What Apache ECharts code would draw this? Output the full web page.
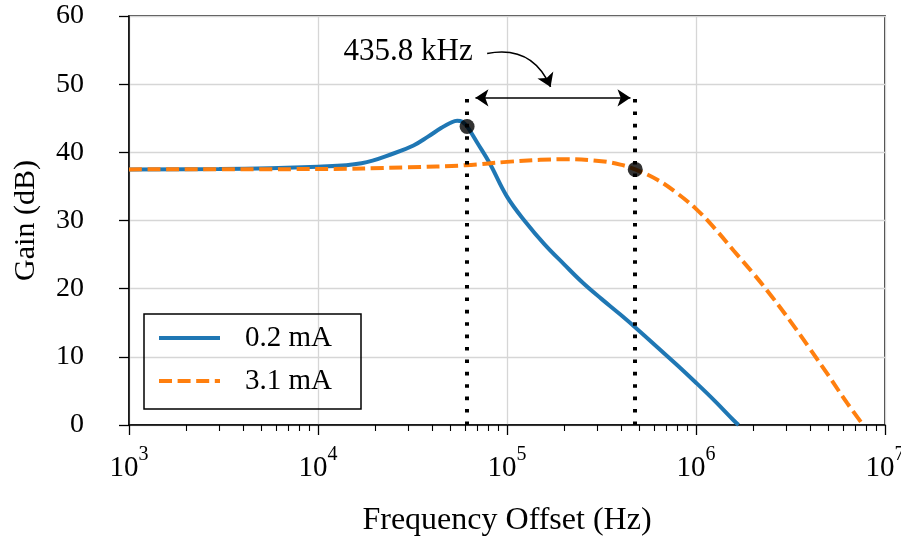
<!DOCTYPE html>
<html>
<head>
<meta charset="utf-8">
<script src="https://cdn.jsdelivr.net/npm/echarts@6/dist/echarts.min.js"></script>
<style>
  html, body { margin: 0; padding: 0; background: #fff; }
  #chart { width: 901px; height: 536px; }
</style>
</head>
<body>
<div id="chart"></div>
<script>
// 0.2 mA curve
var blueFreq = [1e3, 3e3, 1e4, 1.7e4, 2.55e4, 3.2e4, 3.82e4, 4.5e4, 5.0e4, 5.45e4, 5.8e4, 6.15e4, 7e4, 8.1e4, 1e5, 1.26e5, 1.58e5, 2.0e5, 2.51e5, 3.16e5, 3.98e5, 5.01e5, 6.31e5, 7.94e5, 1e6, 1.26e6, 1.58e6, 1.68e6]
var blueGain = [37.5, 37.55, 37.9, 38.4, 39.9, 41.0, 42.3, 43.6, 44.3, 44.65, 44.5, 43.8, 41.3, 38.4, 33.5, 29.7, 26.5, 23.6, 20.9, 18.5, 16.2, 13.8, 11.3, 8.8, 6.2, 3.5, 0.7, 0]
// 3.1 mA curve
var orangeFreq = [1e3, 1e4, 3e4, 6e4, 1e5, 1.5e5, 2.07e5, 3.16e5, 3.98e5, 4.77e5, 6.31e5, 7.94e5, 1e6, 1.26e6, 1.58e6, 2.0e6, 2.51e6, 3.16e6, 3.98e6, 5.01e6, 6.31e6, 7.67e6]
var orangeGain = [37.5, 37.55, 37.8, 38.1, 38.6, 38.9, 39.0, 38.7, 38.2, 37.5, 35.9, 34.0, 31.7, 28.8, 25.6, 22.3, 18.9, 15.2, 11.3, 7.3, 3.2, 0]
// marked points
var markFreq = [6.15e4, 4.77e5]
var markGain = [43.8, 37.5]
var bandLabel = '435.8 kHz'
var minorTicks = [2e3, 3e3, 4e3, 5e3, 6e3, 7e3, 8e3, 9e3,
  2e4, 3e4, 4e4, 5e4, 6e4, 7e4, 8e4, 9e4,
  2e5, 3e5, 4e5, 5e5, 6e5, 7e5, 8e5, 9e5,
  2e6, 3e6, 4e6, 5e6, 6e6, 7e6, 8e6, 9e6]

function zip(xs, ys) {
  return xs.map(function(x, i) { return [x, ys[i]] })
}

var font = 'Liberation Serif'
var chart = echarts.init(document.getElementById('chart'))

chart.setOption({
  animation: false,
  backgroundColor: '#fff',
  textStyle: { fontFamily: font, color: '#000' },
  grid: {
    left: 129, right: 16, top: 16, bottom: 111,
    outerBoundsMode: 'none',
    containLabel: false,
    show: true, borderColor: '#000', borderWidth: 1.5, backgroundColor: 'transparent'
  },
  legend: {
    data: ['0.2 mA', '3.1 mA'],
    orient: 'vertical',
    left: 144,
    top: 314,
    itemWidth: 61,
    itemHeight: 14,
    itemGap: 13,
    padding: [9, 29, 13, 13],
    borderColor: '#000',
    borderWidth: 1.5,
    borderRadius: 0,
    itemStyle: { opacity: 0 },
    lineStyle: { width: 4 },
    textStyle: { fontFamily: font, fontSize: 29, lineHeight: 30, color: '#000', padding: [0, 0, 0, 20] }
  },
  xAxis: [{
    type: 'log',
    min: 1e3,
    max: 1e7,
    name: 'Frequency Offset (Hz)',
    nameLocation: 'middle',
    nameGap: 80,
    nameTextStyle: { fontFamily: font, fontSize: 32, color: '#000' },
    axisLine: { onZero: false, lineStyle: { color: '#000', width: 1.5 } },
    axisTick: { length: 10, lineStyle: { color: '#000', width: 1.3 } },
    splitLine: { show: true, lineStyle: { color: '#d6d6d6', width: 1.3 } },
    axisLabel: {
      margin: 20,
      color: '#000',
      formatter: function(v) {
        return '{b|10}{s|' + Math.round(Math.log10(v)) + '}'
      },
      rich: {
        b: { fontFamily: font, fontSize: 29, lineHeight: 30, padding: [16, 0, 0, 0], color: '#000' },
        s: { fontFamily: font, fontSize: 20, lineHeight: 20, verticalAlign: 'top', color: '#000' }
      }
    }
  }, {
    type: 'log',
    min: 1e3,
    max: 1e7,
    position: 'bottom',
    axisLine: { show: false, onZero: false },
    axisLabel: { show: false },
    splitLine: { show: false },
    axisTick: { show: true, length: 6, customValues: minorTicks, lineStyle: { color: '#000', width: 1.1 } }
  }],
  yAxis: {
    type: 'value',
    min: 0,
    max: 60,
    interval: 10,
    name: 'Gain (dB)',
    nameLocation: 'middle',
    nameGap: 88,
    nameTextStyle: { fontFamily: font, fontSize: 30, color: '#000' },
    axisLine: { show: true, lineStyle: { color: '#000', width: 1.5 } },
    axisTick: { show: true, length: 10, lineStyle: { color: '#000', width: 1.3 } },
    splitLine: { show: true, lineStyle: { color: '#d6d6d6', width: 1.3 } },
    axisLabel: { margin: 45, fontFamily: font, fontSize: 28, color: '#000' }
  },
  series: [{
    name: '0.2 mA',
    type: 'line',
    data: zip(blueFreq, blueGain),
    smooth: 0.4,
    showSymbol: false,
    symbol: 'none',
    lineStyle: { color: '#1f77b4', width: 4 },
    itemStyle: { color: '#1f77b4' },
    z: 3
  }, {
    name: '3.1 mA',
    type: 'line',
    data: zip(orangeFreq, orangeGain),
    smooth: 0.4,
    showSymbol: false,
    symbol: 'none',
    lineStyle: { color: '#ff7f0e', width: 4, type: [13, 5.6], cap: 'butt' },
    itemStyle: { color: '#ff7f0e' },
    z: 3
  }, {
    name: 'marks',
    type: 'scatter',
    data: zip(markFreq, markGain),
    symbolSize: 15,
    itemStyle: { color: '#000' },
    silent: true,
    z: 6,
    markLine: {
      silent: true,
      animation: false,
      label: { show: false },
      emphasis: { disabled: true },
      symbol: 'none',
      lineStyle: { color: '#000', width: 4, type: [3.6, 8.8], cap: 'butt' },
      data: [
        [{ coord: [markFreq[0], 0] }, { coord: [markFreq[0], 48.4] }],
        [{ coord: [markFreq[1], 0] }, { coord: [markFreq[1], 48.4] }],
        [{ coord: [6.81e4, 48], symbol: 'arrow', symbolSize: 13, lineStyle: { type: 'solid', width: 1.6 } },
         { coord: [4.5e5, 48], symbol: 'arrow', symbolSize: 13 }]
      ]
    },
    markPoint: {
      silent: true,
      symbol: 'circle',
      symbolSize: 0,
      label: { show: true, position: 'inside', formatter: bandLabel, fontFamily: font, fontSize: 31, color: '#000' },
      data: [{ coord: [3.0e4, 54.8] }]
    }
  }, {
    name: 'pointer',
    type: 'lines',
    coordinateSystem: 'cartesian2d',
    silent: true,
    symbol: ['none', 'arrow'],
    symbolSize: 13,
    lineStyle: { color: '#000', width: 1.6, opacity: 1, curveness: 0.4 },
    data: [{ coords: [[7.85e4, 54.5], [1.7e5, 49.6]] }],
    z: 5
  }]
})
</script>
</body>
</html>
